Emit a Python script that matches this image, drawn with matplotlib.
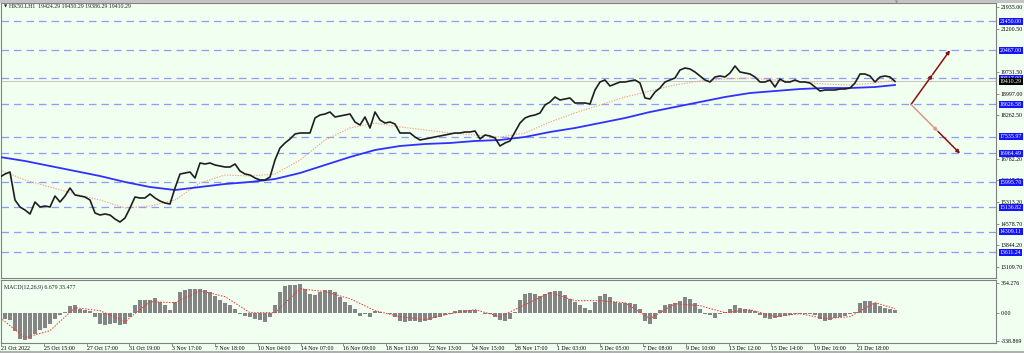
import numpy as np
import matplotlib
matplotlib.use('Agg')
import matplotlib.pyplot as plt
from matplotlib.transforms import blended_transform_factory
from matplotlib.patches import Rectangle

# ---------------- data ----------------
symbol_title = "HK50.LH1  19424.29 19450.29 19386.29 19410.29"
macd_title = "MACD(12,26,9) 6.679 35.477"

close = [
    16165, 16267, 16335, 15385, 15148, 15046, 14910, 15317, 15148, 15181,
    15148, 15521, 15317, 15521, 15792, 15555, 15521, 15487, 15385, 14944,
    14876, 14910, 14876, 14740, 14638, 14774, 15114, 15487, 15453, 15453,
    15589, 15453, 15351, 15283, 15249, 15792, 16267, 16301, 16335, 16131,
    16641, 16607, 16641, 16573, 16539, 16505, 16505, 16607, 16369, 16267,
    16233, 16131, 16064, 16064, 16165, 16743, 17150, 17320, 17456, 17625,
    17659, 17659, 17659, 18168, 18270, 18304, 18372, 18202, 18236, 18270,
    18304, 18032, 17930, 18202, 17829, 18372, 18100, 17998, 18032, 17964,
    17659, 17659, 17659, 17524, 17422, 17456, 17490, 17524, 17557, 17591,
    17625, 17659, 17659, 17693, 17693, 17727, 17456, 17591, 17557, 17490,
    17218, 17320, 17388, 17693, 17998, 18168, 18236, 18270, 18338, 18609,
    18711, 18881, 18779, 18813, 18847, 18677, 18677, 18677, 18643, 19118,
    19390, 19458, 19254, 19322, 19390, 19390, 19424, 19458, 19356, 18847,
    18813, 19050, 19186, 19390, 19458, 19526, 19797, 19865, 19831, 19729,
    19594, 19458, 19390, 19560, 19594, 19560, 19695, 19933, 19729, 19695,
    19661, 19560, 19390, 19390, 19458, 19220, 19492, 19390, 19390, 19458,
    19390, 19390, 19356, 19220, 19084, 19118, 19118, 19118, 19152, 19152,
    19186, 19356, 19661, 19661, 19594, 19390, 19560, 19594, 19560, 19410,
]

# moving averages, read every 5 bars (last one at the final bar)
ma_slow = [16844, 16709, 16539, 16369, 16199, 15996, 15826, 15724, 15826, 15928,
           15996, 16097, 16301, 16573, 16844, 17082, 17218, 17286, 17320, 17388,
           17422, 17524, 17693, 17829, 17998, 18168, 18372, 18541, 18711, 18881,
           19016, 19084, 19152, 19186, 19186, 19220, 19288]
ma_fast = [16403, 16064, 15826, 15589, 15385, 15114, 15181, 15385, 15962, 16233,
           16199, 16267, 16743, 17422, 17829, 17998, 17863, 17761, 17659, 17591,
           17524, 17659, 18032, 18338, 18609, 18881, 19084, 19288, 19424, 19492,
           19526, 19458, 19390, 19322, 19288, 19356, 19458]

macd_hist = [
    -72, -72, -84, -216, -312, -324, -312, -252, -204, -180,
    -132, -72, -24, 12, 84, 96, 48, 36, 24, -48,
    -132, -144, -132, -120, -144, -132, -48, 96, 156, 156,
    156, 180, 132, 96, 36, 132, 252, 276, 288, 288,
    288, 276, 252, 204, 156, 120, 96, 48, -12, -36,
    -48, -72, -84, -108, -48, 96, 252, 324, 336, 336,
    348, 288, 228, 216, 252, 276, 276, 252, 192, 132,
    96, 48, -36, -12, -48, 24, 12, 0, -12, -48,
    -96, -108, -96, -96, -108, -96, -84, -60, -48, -24,
    -12, 24, 36, 36, 36, 36, 0, -12, -12, -48,
    -84, -96, -72, 12, 156, 228, 240, 228, 204, 228,
    252, 264, 264, 216, 168, 132, 96, 60, 36, 132,
    204, 228, 192, 132, 120, 120, 120, 108, 48, -96,
    -132, -72, 36, 96, 108, 120, 144, 192, 168, 120,
    48, -12, -24, -60, -12, 12, 48, 96, 60, 48,
    36, 24, -24, -60, -72, -60, -48, -36, -24, -12,
    -12, -12, -12, -24, -72, -96, -84, -60, -48, -36,
    -12, 12, 120, 144, 144, 120, 84, 60, 48, 36,
]
macd_signal = [-60, -300, -216, 60, 24, -108, 132, 120, 264, 192,
               0, 0, 288, 252, 168, 24, -48, -84, -12, 36,
               -48, 96, 240, 144, 144, 120, -72, 108, 84, 0,
               36, -48, -12, -72, -48, 120, 48]

levels = [21450.00, 20467.00, 19517.00, 18626.58, 17535.97,
          16964.49, 15995.70, 15136.82, 14309.11, 13611.24]
price_ticks = [21935.00, 21200.50, 19731.50, 18997.00, 18262.50,
               16782.20, 16047.70, 15313.20, 14578.70, 13844.20, 13109.70]
last_price = 19410.29
macd_ticks = [354.276, 0.0, -338.869]
macd_tick_labels = ['354.276', '0.00', '-338.869']

time_labels = ["21 Oct 2022", "25 Oct 15:00", "27 Oct 17:00", "31 Oct 19:00",
               "3 Nov 17:00", "7 Nov 18:00", "10 Nov 04:00", "14 Nov 07:00",
               "16 Nov 09:00", "18 Nov 11:00", "22 Nov 13:00", "24 Nov 15:00",
               "28 Nov 17:00", "1 Dec 03:00", "5 Dec 05:00", "7 Dec 08:00",
               "9 Dec 10:00", "13 Dec 12:00", "15 Dec 14:00", "19 Dec 16:00",
               "21 Dec 18:00"]

# projection arrows (bar index, price)
proj_start = (182.2, 18626.58)
proj_up = (190.0, 20467.00)
proj_down = (192.0, 16964.49)

# ---------------- drawing ----------------
BG = '#F0FFF0'
FONT = ['Liberation Serif', 'DejaVu Serif']
FS = 4.2
plt.rcParams['font.family'] = FONT

W, H = 1024, 353
fig = plt.figure(figsize=(W / 100, H / 100), dpi=100, facecolor=BG)
ax = fig.add_axes([1 / W, 1 - 278 / H, 995 / W, 275 / H], facecolor=BG)
ax2 = fig.add_axes([1 / W, 1 - 343 / H, 995 / W, 63 / H], facecolor=BG)

n = len(close)
idx = np.arange(n)
sidx = np.r_[np.arange(0, n, 5), n - 1]

xl = (0.2, 199.2)
for a in (ax, ax2):
    a.set_xlim(*xl)
    for s in a.spines.values():
        s.set_color('#808080')
        s.set_linewidth(0.8)

ax.set_ylim(12738, 22071)

for lv in levels:
    ax.axhline(lv, color='#8c9cff', lw=0.9, ls=(0, (6, 4)), zorder=1)
ax.axhline(last_price, color='#c4c4c4', lw=0.7, zorder=1)

ax.plot(sidx, ma_fast, color='#f4a084', lw=0.8, ls=(0, (1.2, 1.2)), zorder=2)
ax.plot(sidx, ma_slow, color='#3030ff', lw=1.3, zorder=3)
ax.plot(idx, close, color='#1e1e1e', lw=1.2, zorder=4)

# projection arrows
def arrow(p0, p1, color):
    ax.annotate('', xy=p1, xytext=p0,
                arrowprops=dict(arrowstyle='-|>', color=color, lw=1.1,
                                mutation_scale=5, shrinkA=0, shrinkB=0),
                annotation_clip=False, zorder=5)

for target, c1 in ((proj_up, '#8b1010'), (proj_down, '#d89a8c')):
    mid = (proj_start[0] + 0.55 * (target[0] - proj_start[0]),
           proj_start[1] + 0.55 * (target[1] - proj_start[1]))
    arrow(proj_start, mid, c1)
    arrow(mid, target, '#8b1010')

# right axis
ax.yaxis.tick_right()
ax.set_yticks(price_ticks)
ax.set_yticklabels(['%.2f' % t for t in price_ticks])
ax.tick_params(axis='y', length=2, width=0.6, pad=1.5, labelsize=FS,
               colors='#808080', labelcolor='black')
ax.tick_params(axis='x', length=0, labelbottom=False)

tr = blended_transform_factory(ax.transAxes, ax.transData)
for lv in levels:
    ax.text(1.004, lv, '%.2f' % lv, transform=tr, fontsize=FS, color='white',
            ha='left', va='center', zorder=10,
            bbox=dict(facecolor='#1414ff', edgecolor='none', pad=0.7))
ax.text(1.004, last_price, '%.2f' % last_price, transform=tr, fontsize=FS,
        color='white', ha='left', va='center', zorder=10,
        bbox=dict(facecolor='black', edgecolor='none', pad=0.7))

ax.text(0.003, 0.995, '\u25bc', transform=ax.transAxes, fontsize=3,
        family=['DejaVu Sans'], va='top', ha='left', color='#202020')
ax.text(0.0085, 0.997, symbol_title, transform=ax.transAxes, fontsize=FS,
        va='top', ha='left', color='#202020')

# MACD panel
ax2.set_ylim(-364, 392)
ax2.bar(idx, macd_hist, width=0.85, color='#858585', edgecolor='none', zorder=2)
ax2.plot(sidx, macd_signal, color='#ff2a2a', lw=0.7, ls=(0, (1.5, 1.5)), zorder=3)
ax2.yaxis.tick_right()
ax2.set_yticks(macd_ticks)
ax2.set_yticklabels(macd_tick_labels)
ax2.tick_params(axis='y', length=2, width=0.6, pad=1.5, labelsize=FS,
                colors='#808080', labelcolor='black')
xt = 0.2 + np.arange(len(time_labels)) * 8.56
ax2.set_xticks(xt)
ax2.set_xticklabels(time_labels, ha='left')
ax2.tick_params(axis='x', length=2, width=0.6, pad=0.5, labelsize=FS,
                colors='#808080', labelcolor='black')
ax2.text(0.003, 0.93, macd_title, transform=ax2.transAxes, fontsize=FS,
         va='top', ha='left', color='#202020')

# window chrome
fig.patches.append(Rectangle((0, 1 - 3 / H), 1, 3 / H, transform=fig.transFigure,
                             facecolor='#c4c4c4', edgecolor='none', zorder=0))
fig.patches.append(Rectangle((0, 0), 1, 2 / H, transform=fig.transFigure,
                             facecolor='#b0b0b0', edgecolor='none', zorder=0))
fig.text(897 / W, 1 - 1 / H, '\u25bc', fontsize=3, color='#909090',
         family=['DejaVu Sans'], ha='center', va='top')

fig.savefig('out.png', dpi=100, facecolor=BG)
